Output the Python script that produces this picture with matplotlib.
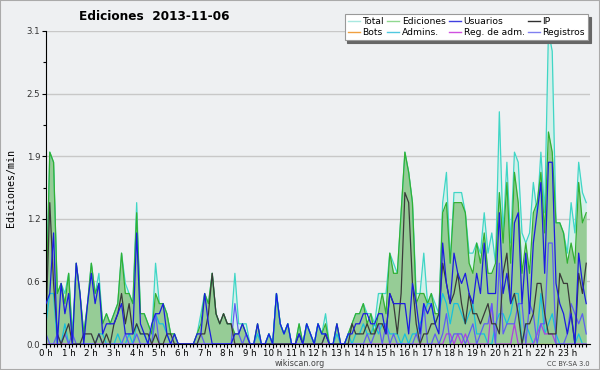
import numpy as np
import matplotlib
matplotlib.use('Agg')
import matplotlib.pyplot as plt
from matplotlib.lines import Line2D
from matplotlib.ticker import FixedLocator, FuncFormatter

# edits per minute, 10-minute bins, 2013-11-06
total = [0.4, 1.9, 1.8, 0.5, 0.6, 0.5,  0.7, 0.1, 0.8, 0.5, 0.1, 0.4,
         0.8, 0.5, 0.7, 0.2, 0.3, 0.2,  0.3, 0.4, 0.9, 0.6, 0.5, 0.4,
         1.4, 0.3, 0.3, 0.2, 0.1, 0.8,  0.4, 0.4, 0.3, 0.1, 0.1, 0.0,
         0.0, 0.0, 0.0, 0.0, 0.1, 0.3,  0.5, 0.4, 0.7, 0.3, 0.2, 0.3,
         0.2, 0.2, 0.7, 0.2, 0.2, 0.2,  0.0, 0.0, 0.2, 0.0, 0.0, 0.1,
         0.0, 0.5, 0.2, 0.1, 0.2, 0.0,  0.0, 0.2, 0.0, 0.2, 0.1, 0.0,
         0.2, 0.1, 0.3, 0.0, 0.0, 0.2,  0.0, 0.0, 0.1, 0.2, 0.3, 0.3,
         0.4, 0.3, 0.3, 0.2, 0.5, 0.5,  0.5, 0.9, 0.8, 0.7, 1.3, 1.9,
         1.7, 1.4, 0.5, 0.5, 0.9, 0.4,  0.5, 0.4, 0.3, 1.4, 1.7, 0.8,
         1.5, 1.5, 1.5, 1.3, 0.9, 0.9,  1.0, 0.9, 1.3, 0.9, 1.1, 0.8,
         2.3, 1.1, 1.8, 1.0, 1.9, 1.8,  1.1, 1.0, 1.1, 1.6, 1.3, 1.9,
         1.3, 3.1, 2.9, 1.2, 1.2, 1.1,  0.9, 1.4, 1.1, 1.8, 1.5, 1.4]
ediciones = [0.3, 1.9, 1.8, 0.5, 0.6, 0.4,  0.7, 0.0, 0.8, 0.5, 0.1, 0.4,
             0.8, 0.5, 0.6, 0.2, 0.3, 0.2,  0.3, 0.4, 0.9, 0.5, 0.5, 0.4,
             1.3, 0.3, 0.3, 0.2, 0.1, 0.5,  0.4, 0.4, 0.3, 0.1, 0.1, 0.0,
             0.0, 0.0, 0.0, 0.0, 0.1, 0.2,  0.5, 0.4, 0.7, 0.3, 0.2, 0.3,
             0.2, 0.2, 0.1, 0.1, 0.2, 0.1,  0.0, 0.0, 0.2, 0.0, 0.0, 0.1,
             0.0, 0.5, 0.2, 0.1, 0.2, 0.0,  0.0, 0.2, 0.0, 0.2, 0.1, 0.0,
             0.2, 0.1, 0.2, 0.0, 0.0, 0.2,  0.0, 0.0, 0.1, 0.2, 0.3, 0.3,
             0.4, 0.2, 0.3, 0.1, 0.3, 0.5,  0.3, 0.9, 0.7, 0.7, 1.3, 1.9,
             1.7, 1.4, 0.4, 0.5, 0.5, 0.4,  0.5, 0.3, 0.3, 1.3, 1.4, 0.8,
             1.4, 1.4, 1.4, 1.3, 0.8, 0.7,  1.0, 0.8, 1.1, 0.7, 0.7, 0.8,
             1.5, 1.0, 1.6, 0.8, 1.7, 1.4,  0.7, 1.0, 0.7, 1.3, 1.4, 1.7,
             1.1, 2.1, 1.9, 1.2, 1.2, 1.1,  0.8, 1.0, 0.8, 1.6, 1.2, 1.3]
usuarios = [0.4, 0.5, 1.1, 0.0, 0.6, 0.3,  0.5, 0.0, 0.8, 0.5, 0.0, 0.4,
            0.7, 0.4, 0.6, 0.1, 0.2, 0.2,  0.2, 0.3, 0.4, 0.1, 0.1, 0.1,
            1.1, 0.2, 0.1, 0.0, 0.2, 0.3,  0.3, 0.4, 0.1, 0.0, 0.1, 0.0,
            0.0, 0.0, 0.0, 0.0, 0.1, 0.1,  0.5, 0.2, 0.0, 0.0, 0.0, 0.0,
            0.0, 0.0, 0.1, 0.1, 0.2, 0.1,  0.0, 0.0, 0.2, 0.0, 0.0, 0.1,
            0.0, 0.5, 0.2, 0.1, 0.2, 0.0,  0.0, 0.1, 0.0, 0.2, 0.1, 0.0,
            0.2, 0.1, 0.1, 0.0, 0.0, 0.2,  0.0, 0.0, 0.1, 0.1, 0.2, 0.2,
            0.3, 0.3, 0.2, 0.2, 0.3, 0.3,  0.1, 0.5, 0.4, 0.4, 0.4, 0.4,
            0.1, 0.6, 0.4, 0.1, 0.4, 0.3,  0.4, 0.2, 0.1, 1.0, 0.6, 0.4,
            0.9, 0.7, 0.6, 0.7, 0.5, 0.4,  0.7, 0.5, 1.0, 0.5, 0.5, 0.5,
            1.3, 0.5, 0.7, 0.4, 1.2, 1.3,  0.4, 0.9, 0.3, 1.0, 1.3, 1.6,
            0.7, 1.8, 1.8, 0.6, 0.4, 0.3,  0.1, 0.3, 0.0, 0.9, 0.6, 0.4]
ip = [0.2, 1.4, 0.6, 0.1, 0.0, 0.1,  0.2, 0.0, 0.0, 0.0, 0.1, 0.1,
      0.1, 0.0, 0.1, 0.0, 0.1, 0.0,  0.2, 0.3, 0.5, 0.2, 0.4, 0.1,
      0.2, 0.1, 0.1, 0.1, 0.0, 0.1,  0.0, 0.0, 0.1, 0.1, 0.0, 0.0,
      0.0, 0.0, 0.0, 0.0, 0.0, 0.1,  0.1, 0.3, 0.7, 0.3, 0.2, 0.3,
      0.2, 0.2, 0.0, 0.0, 0.0, 0.0,  0.0, 0.0, 0.0, 0.0, 0.0, 0.0,
      0.0, 0.0, 0.0, 0.0, 0.0, 0.0,  0.0, 0.1, 0.0, 0.0, 0.0, 0.0,
      0.0, 0.0, 0.1, 0.0, 0.0, 0.0,  0.0, 0.0, 0.0, 0.2, 0.1, 0.1,
      0.1, 0.2, 0.1, 0.1, 0.2, 0.2,  0.1, 0.5, 0.4, 0.1, 0.5, 1.5,
      1.4, 0.6, 0.2, 0.0, 0.1, 0.1,  0.2, 0.2, 0.3, 0.8, 0.6, 0.4,
      0.5, 0.7, 0.4, 0.2, 0.5, 0.3,  0.3, 0.2, 0.3, 0.4, 0.2, 0.2,
      0.1, 0.7, 0.9, 0.4, 0.5, 0.3,  0.0, 0.2, 0.2, 0.3, 0.6, 0.6,
      0.3, 0.1, 0.1, 0.1, 0.7, 0.6,  0.6, 0.3, 0.0, 0.7, 0.5, 0.8]
bots = [0.0] * 144
admins = [0.2, 0.5, 0.5, 0.0, 0.0, 0.2,  0.0, 0.0, 0.0, 0.0, 0.0, 0.0,
          0.0, 0.0, 0.1, 0.1, 0.0, 0.0,  0.0, 0.1, 0.0, 0.0, 0.1, 0.0,
          0.2, 0.1, 0.1, 0.0, 0.0, 0.3,  0.2, 0.2, 0.1, 0.0, 0.0, 0.0,
          0.0, 0.0, 0.0, 0.0, 0.0, 0.0,  0.0, 0.0, 0.0, 0.0, 0.0, 0.0,
          0.0, 0.0, 0.0, 0.0, 0.0, 0.0,  0.0, 0.0, 0.1, 0.0, 0.0, 0.1,
          0.0, 0.5, 0.2, 0.1, 0.2, 0.0,  0.0, 0.1, 0.0, 0.2, 0.1, 0.0,
          0.2, 0.1, 0.1, 0.0, 0.0, 0.1,  0.0, 0.0, 0.1, 0.0, 0.1, 0.1,
          0.2, 0.1, 0.1, 0.2, 0.1, 0.2,  0.2, 0.1, 0.1, 0.1, 0.0, 0.1,
          0.0, 0.1, 0.1, 0.2, 0.3, 0.4,  0.4, 0.2, 0.3, 0.5, 0.4, 0.2,
          0.4, 0.4, 0.3, 0.2, 0.3, 0.4,  0.1, 0.1, 0.1, 0.0, 0.0, 0.2,
          0.3, 0.3, 0.2, 0.3, 0.5, 0.5,  0.0, 0.2, 0.1, 0.0, 0.1, 0.5,
          0.1, 0.2, 0.3, 0.1, 0.0, 0.0,  0.0, 0.0, 0.0, 0.1, 0.0, 0.0]
reg_adm = [0.0] * 102 + [0.0, 0.0, 0.0, 0.0, 0.1, 0.1,
                         0.0, 0.1, 0.0, 0.1, 0.0, 0.0,
                         0.0, 0.0, 0.0, 0.0, 0.4, 0.0,
                         0.0, 0.0, 0.0, 0.0, 0.2, 0.0,
                         0.0, 0.0, 0.0, 0.0, 0.1, 0.2,
                         0.1, 0.1, 0.1, 0.0, 0.0, 0.0,
                         0.0, 0.0, 0.0, 0.0, 0.0, 0.0]
registros = [0.1, 0.0, 0.0, 0.1, 0.0, 0.1,  0.0, 0.1, 0.0, 0.0, 0.0, 0.0,
             0.0, 0.0, 0.1, 0.0, 0.0, 0.0,  0.0, 0.0, 0.0, 0.1, 0.0, 0.0,
             0.1, 0.0, 0.0, 0.0, 0.0, 0.3,  0.0, 0.0, 0.0, 0.0, 0.0, 0.0,
             0.0, 0.0, 0.0, 0.0, 0.0, 0.1,  0.0, 0.0, 0.0, 0.0, 0.0, 0.0,
             0.0, 0.0, 0.4, 0.1, 0.0, 0.1,  0.0, 0.0, 0.0, 0.0, 0.0, 0.0,
             0.0, 0.0, 0.0, 0.0, 0.0, 0.0,  0.0, 0.0, 0.0, 0.0, 0.0, 0.0,
             0.0, 0.0, 0.1, 0.0, 0.0, 0.0,  0.0, 0.0, 0.0, 0.0, 0.0, 0.0,
             0.0, 0.1, 0.0, 0.1, 0.2, 0.0,  0.2, 0.0, 0.1, 0.0, 0.0, 0.0,
             0.0, 0.0, 0.1, 0.0, 0.4, 0.0,  0.0, 0.1, 0.0, 0.1, 0.3, 0.0,
             0.1, 0.1, 0.1, 0.0, 0.1, 0.2,  0.0, 0.1, 0.2, 0.2, 0.4, 0.0,
             0.8, 0.1, 0.2, 0.2, 0.2, 0.4,  0.4, 0.0, 0.4, 0.3, 0.0, 0.2,
             0.2, 1.0, 1.0, 0.0, 0.0, 0.0,  0.1, 0.4, 0.3, 0.2, 0.3, 0.1]

hours = np.arange(len(total)) / 6.0
hour_labels = ['%d h' % h for h in range(24)]
ymax = 3.1

bg = '#eef0f2'
fig = plt.figure(figsize=(6, 3.7), dpi=100, facecolor=bg)
ax = fig.add_axes([46 / 600, 1 - 344 / 370, 544 / 600, 313 / 370])
ax.set_facecolor(bg)

# filled areas
ax.fill_between(hours, total, color='#d3f0ea', lw=0, zorder=1)
ax.fill_between(hours, ediciones, color='#96cc96', lw=0, zorder=1.1)

lw = 0.9
ax.plot(hours, bots, color='#f0a030', lw=lw, zorder=1.2)
ax.plot(hours, total, color='#3fd6c6', lw=lw, zorder=2)
ax.plot(hours, ediciones, color='#33b033', lw=lw, zorder=2.1)
ax.plot(hours, admins, color='#18c0dc', lw=lw, zorder=2.2)
ax.plot(hours, reg_adm, color='#b040e0', lw=lw, zorder=2.3)
ax.plot(hours, registros, color='#5e5ef2', lw=lw, zorder=2.4)
ax.plot(hours, ip, color='#3a3a3a', lw=lw, zorder=2.5)
ax.plot(hours, usuarios, color='#1c1ce0', lw=lw, zorder=2.6)

ax.set_xlim(0, 24)
ax.set_ylim(0, ymax)

yt = [ymax * k / 5 for k in range(6)]
ax.yaxis.set_major_locator(FixedLocator(yt))
ax.yaxis.set_minor_locator(FixedLocator([ymax * (k + 0.5) / 5 for k in range(5)]))
ax.yaxis.set_major_formatter(FuncFormatter(lambda v, p: '%.1f' % v))
ax.xaxis.set_major_locator(FixedLocator(range(24)))
ax.xaxis.set_minor_locator(FixedLocator(hours))
ax.set_xticklabels(hour_labels)

ax.grid(axis='y', color='#c8c8c8', lw=1, zorder=0.5)
ax.set_axisbelow(True)
for s in ['top', 'right']:
    ax.spines[s].set_visible(False)
ax.spines['left'].set_color('black')
ax.spines['bottom'].set_color('black')
ax.tick_params(axis='both', which='major', direction='out', length=3, width=0.8,
               labelsize=6.2, pad=0.5, colors='black')
ax.tick_params(axis='both', which='minor', direction='out', length=2.5, width=0.8)
ax.tick_params(axis='y', labelcolor='#333333', pad=1)

fig.text(0.257, 0.955, 'Ediciones  2013-11-06', ha='center', va='center',
         fontsize=8.7, fontweight='bold')
fig.text(0.018, 0.492, 'Ediciones/min', rotation=90, ha='center', va='center',
         fontsize=7.2, family='DejaVu Sans Mono')
fig.text(0.5, 0.017, 'wikiscan.org', ha='center', va='center', fontsize=5.8, color='#444444')
fig.text(0.982, 0.017, 'CC BY-SA 3.0', ha='right', va='center', fontsize=4.8, color='#444444')

# legend, filled column by column
names = ['Total', 'Bots', 'Ediciones', 'Admins.', 'Usuarios', 'Reg. de adm.', 'IP', 'Registros']
cols = ['#a8e8e0', '#f0a040', '#90d890', '#50c8e0', '#4040e0', '#d050e0', '#303030', '#8080f0']
handles = [Line2D([], [], color=c, lw=1) for c in cols]
leg = fig.legend(handles, names, ncol=4, loc='upper right', bbox_to_anchor=(0.988, 0.975),
                 fontsize=6.6, frameon=True, fancybox=False, handlelength=1.3,
                 handletextpad=0.3, columnspacing=0.35, labelspacing=0.2, borderpad=0.35,
                 shadow={'color': '#666666', 'alpha': 1})
leg.get_frame().set_edgecolor('#999999')
leg.get_frame().set_linewidth(0.8)
leg.get_frame().set_facecolor('white')
leg.get_frame().set_alpha(1)

# thin frame round the picture
fig.patches.append(plt.Rectangle((0, 0), 1, 1, transform=fig.transFigure, fill=False,
                                 edgecolor='#aaaaaa', lw=1.5))

fig.savefig('out.png', dpi=100, facecolor=bg)
